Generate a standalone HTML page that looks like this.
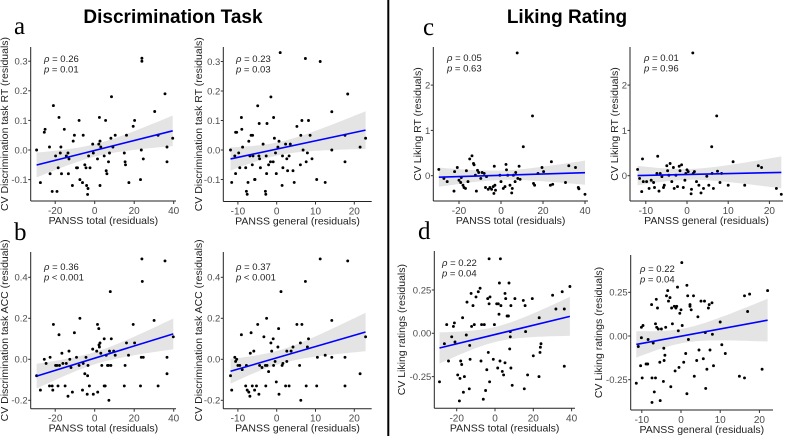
<!DOCTYPE html>
<html><head><meta charset="utf-8"><style>
html,body{margin:0;padding:0;background:#fff;}
svg{display:block;font-family:"Liberation Sans",sans-serif;}
</style></head><body>
<svg id="fig" width="790" height="436" viewBox="0 0 790 436">
<text x="173" y="23" text-anchor="middle" font-size="19" font-weight="bold">Discrimination Task</text>
<text x="567" y="23" text-anchor="middle" font-size="19" font-weight="bold">Liking Rating</text>
<line x1="388.3" y1="0" x2="388.3" y2="436" stroke="#000" stroke-width="2"/>
<text x="14" y="34" font-family="Liberation Serif,serif" font-size="25">a</text>
<text x="14" y="240" font-family="Liberation Serif,serif" font-size="25">b</text>
<text x="423" y="35" font-family="Liberation Serif,serif" font-size="25">c</text>
<text x="418" y="239" font-family="Liberation Serif,serif" font-size="25">d</text>
</svg>
<script>
// ---- data (x = PANSS residual, y = CV residual) ----
const a1X=[-29.4,-27.5,-25.5,-25.1,-22.9,-22.6,-21.5,-20.9,-19.8,-19.1,-18.5,-18.1,-17.4,-17.1,-16.8,-15.4,-14.4,-13.5,-13.0,-13.3,-11.3,-10.9,-10.3,-9.2,-8.7,-7.9,-7.5,-6.2,-5.8,-5.0,-4.4,-4.1,-3.6,-3.4,-3.1,-2.4,-1.0,-0.7,1.4,2.1,2.4,2.7,2.7,3.1,4.8,5.5,5.8,6.2,7.0,7.5,8.2,8.5,9.2,10.4,15.0,15.4,15.6,16.1,17.3,19.5,20.2,23.2,23.6,23.9,23.9,24.6,30.4,32.1,35.6,36.6,36.6,39.5];
const a1Y=[0.00,-0.11,0.06,0.07,0.01,-0.08,-0.14,0.15,-0.02,-0.14,-0.06,0.11,-0.01,0.01,-0.08,0.07,-0.02,-0.01,-0.03,-0.08,-0.12,0.03,0.05,-0.06,-0.06,0.10,-0.10,-0.11,0.05,-0.05,-0.06,-0.12,-0.15,-0.13,-0.02,-0.06,0.02,-0.01,-0.03,0.02,0.11,-0.12,0.03,0.01,-0.02,0.10,-0.07,-0.08,-0.04,-0.01,0.04,0.18,0.01,0.05,-0.01,-0.04,-0.05,0.05,-0.11,0.08,0.10,-0.10,0.00,0.31,0.30,-0.03,0.13,0.05,0.19,0.01,-0.04,0.04];
const a2X=[-11.9,-11.6,-10.8,-10.6,-10.3,-10.6,-9.8,-9.5,-9.1,-9.0,-8.8,-8.0,-7.8,-7.6,-7.4,-7.2,-6.9,-6.6,-6.3,-6.2,-6.1,-5.7,-5.6,-4.9,-4.6,-4.5,-4.4,-4.2,-3.5,-2.9,-2.8,-2.7,-2.6,-2.5,-2.1,-1.6,-1.5,-0.9,-0.8,-0.6,-0.3,-0.1,0.3,0.6,0.9,1.4,1.5,1.6,2.3,2.6,2.8,3.2,3.5,4.2,4.5,5.2,6.1,6.2,6.5,6.8,7.4,7.6,7.9,8.2,8.6,9.1,10.3,11.2,12.5,14.2,14.2,17.6,17.6,18.3,21.5,22.9];
const a2Y=[0.00,-0.11,-0.02,0.06,0.06,-0.08,-0.01,-0.06,0.11,0.07,0.01,-0.06,-0.14,-0.15,-0.11,0.03,-0.02,0.05,-0.05,0.05,-0.02,-0.10,-0.10,0.15,-0.02,0.09,-0.03,-0.06,0.02,-0.14,-0.15,-0.02,-0.08,0.09,-0.05,-0.04,0.18,-0.04,0.11,0.04,-0.01,-0.08,0.01,0.03,0.33,-0.12,-0.02,-0.06,0.02,-0.03,-0.07,-0.02,0.02,-0.07,-0.11,0.08,-0.05,0.05,0.10,0.00,0.31,-0.04,-0.01,0.10,0.05,-0.03,-0.10,0.30,-0.11,0.13,0.00,-0.04,0.05,0.19,0.01,0.04];
const b1X=[-29.4,-27.5,-25.5,-24.6,-22.9,-22.6,-21.5,-21.2,-20.9,-19.8,-19.1,-18.6,-18.1,-17.8,-16.6,-16.1,-15.0,-14.4,-13.5,-13.0,-12.6,-12.0,-11.3,-10.3,-9.2,-7.9,-7.5,-6.2,-5.8,-5.0,-4.4,-3.8,-3.6,-3.4,-2.7,-1.0,-0.7,1.0,1.4,1.5,2.1,2.2,2.4,2.7,3.1,3.6,4.8,4.8,5.3,5.8,6.5,7.0,7.2,7.5,7.9,8.2,8.4,9.6,10.4,15.0,15.4,16.1,17.1,19.5,20.2,23.2,23.6,23.9,24.1,24.6,30.1,32.1,35.6,36.6,36.6,39.8];
const b1Y=[-0.08,-0.15,0.00,-0.02,-0.13,0.01,-0.13,-0.15,0.17,-0.03,-0.03,-0.13,0.12,-0.03,0.03,-0.02,-0.13,-0.02,-0.18,0.04,0.00,-0.04,-0.16,0.13,0.01,-0.03,0.20,-0.15,-0.02,-0.07,0.01,-0.17,-0.08,-0.03,-0.13,0.05,-0.17,0.04,0.17,-0.16,0.15,0.07,0.06,0.08,0.03,-0.03,0.10,-0.13,-0.13,0.02,-0.03,-0.03,-0.20,0.04,0.33,-0.03,0.10,0.04,0.02,-0.13,-0.03,0.08,0.02,0.17,0.08,-0.13,0.01,0.49,0.38,0.01,0.19,-0.13,0.48,0.01,-0.07,0.11];
const b2X=[-11.9,-11.6,-10.8,-10.6,-10.3,-10.0,-9.5,-9.1,-8.9,-8.0,-7.8,-7.6,-7.2,-6.9,-6.8,-6.6,-6.3,-5.9,-5.7,-5.2,-4.9,-4.6,-4.4,-3.8,-3.3,-2.9,-2.8,-2.6,-2.5,-2.1,-1.5,-1.3,-0.9,-0.8,-0.4,-0.1,0.3,0.5,0.6,1.1,1.4,1.6,2.3,2.6,2.6,3.2,3.7,4.2,5.2,5.9,6.1,6.2,6.5,7.4,7.6,7.9,8.2,10.3,10.5,11.2,12.5,14.2,14.2,17.6,17.6,18.3,21.5,22.9];
const b2Y=[-0.08,-0.15,0.01,-0.01,0.00,-0.03,-0.03,0.12,-0.05,-0.13,-0.03,-0.15,-0.16,-0.18,0.03,0.13,-0.13,0.04,-0.15,-0.13,0.17,-0.17,-0.03,-0.04,0.11,-0.03,-0.13,0.20,-0.03,-0.06,0.08,0.04,0.10,-0.03,-0.01,-0.11,0.06,0.15,-0.17,0.33,-0.03,-0.02,-0.13,0.04,-0.01,-0.13,0.04,0.06,0.17,-0.03,0.08,-0.20,0.17,0.38,-0.13,0.06,0.10,-0.13,0.01,0.49,0.02,0.19,0.01,0.01,-0.13,0.48,-0.07,0.11];
const c1X=[-29.6,-27.2,-25.6,-22.4,-22.1,-20.8,-20.0,-19.2,-18.9,-18.1,-17.6,-16.9,-16.5,-15.7,-14.9,-13.8,-13.1,-12.8,-12.2,-11.7,-11.2,-10.6,-9.6,-9.0,-8.0,-7.4,-6.9,-6.1,-5.3,-4.5,-3.7,-3.4,-3.2,-2.9,-2.6,-0.5,0.0,1.1,1.9,2.4,2.6,3.2,4.3,5.1,5.4,5.9,6.7,7.0,7.7,8.0,8.6,9.1,10.6,15.0,15.5,16.0,17.6,19.5,20.3,23.5,24.0,24.6,30.7,32.3,35.5,36.8,37.1,40.0];
const c1Y=[0.14,-0.06,-0.13,-0.34,0.09,0.18,-0.10,-0.15,-0.04,-0.21,-0.26,-0.28,0.11,-0.13,0.37,0.44,0.27,0.24,0.01,-0.34,0.12,0.07,-0.06,0.07,0.05,-0.26,-0.02,-0.30,-0.26,-0.30,-0.24,-0.39,0.21,-0.21,-0.32,0.01,-0.13,-0.28,-0.24,0.25,0.13,0.01,-0.21,-0.38,-0.28,0.01,-0.13,0.07,2.71,-0.06,0.21,-0.08,0.64,1.32,-0.17,-0.21,0.05,0.18,0.09,-0.21,0.31,-0.19,-0.15,0.22,0.18,-0.26,-0.29,-0.41];
const c2X=[-12.0,-11.5,-11.0,-10.8,-10.6,-9.8,-9.2,-8.7,-8.1,-7.9,-7.3,-7.1,-6.8,-6.5,-6.1,-5.7,-5.5,-4.9,-4.7,-4.4,-4.1,-3.7,-3.3,-3.1,-2.7,-2.3,-1.9,-1.7,-1.3,-0.9,-0.5,-0.3,0.0,0.3,1.0,1.1,1.4,1.5,1.8,2.3,2.9,3.4,4.0,4.8,5.3,6.0,6.1,6.4,7.2,7.4,8.0,8.4,10.0,11.2,14.0,17.3,18.1,21.7,22.9];
const c2Y=[0.14,-0.06,-0.35,0.37,-0.13,-0.13,-0.28,-0.10,-0.15,-0.26,0.05,0.43,-0.34,0.05,-0.02,-0.26,-0.21,0.22,0.11,0.01,0.27,-0.13,0.18,-0.28,0.01,-0.24,0.21,0.11,0.24,-0.26,-0.10,0.05,0.13,0.09,-0.40,-0.30,2.71,0.05,0.09,-0.13,-0.21,-0.38,-0.28,-0.01,-0.21,0.64,0.05,-0.28,1.32,0.10,-0.15,0.05,-0.21,0.31,-0.21,0.22,0.18,-0.28,-0.41];
const d1X=[-29.0,-26.4,-25.2,-24.3,-22.6,-21.7,-21.2,-20.9,-19.5,-18.6,-18.3,-17.9,-17.4,-16.9,-16.5,-16.0,-15.0,-14.6,-13.4,-13.2,-13.0,-12.5,-12.2,-11.5,-10.8,-9.9,-8.7,-7.8,-7.3,-7.0,-6.1,-5.6,-4.9,-4.3,-3.8,-3.5,-3.1,-3.1,-2.8,-2.6,-0.9,-0.3,0.9,1.4,1.7,2.1,2.3,2.6,2.8,3.1,3.8,4.5,5.2,5.2,5.6,6.3,7.0,7.3,7.7,8.0,8.0,8.3,8.3,9.0,10.4,14.8,15.3,15.7,16.0,17.0,19.5,20.0,23.0,23.1,23.5,23.7,24.0,30.1,31.8,35.1,36.2,36.2,39.1];
const d1Y=[-0.28,-0.06,0.05,-0.16,-0.02,0.04,0.06,-0.05,-0.24,-0.39,-0.26,-0.16,-0.18,0.09,-0.34,-0.25,-0.01,0.18,-0.32,-0.07,-0.15,0.23,0.04,0.16,0.05,0.21,0.24,0.26,-0.16,0.05,-0.38,0.05,-0.33,-0.21,0.20,-0.11,0.43,0.17,-0.28,0.21,-0.15,0.05,0.17,-0.20,0.17,0.11,0.29,-0.16,0.43,0.16,-0.22,-0.24,0.23,-0.17,0.20,0.10,0.10,0.29,-0.09,0.01,-0.02,0.16,-0.20,-0.30,0.20,0.19,-0.32,0.16,0.01,-0.24,0.20,-0.13,-0.25,0.09,-0.11,-0.08,-0.06,0.22,0.14,0.24,0.14,-0.19,0.27];
const d2X=[-11.4,-10.9,-10.3,-10.1,-10.1,-9.9,-9.7,-8.9,-8.5,-8.4,-7.5,-7.4,-7.4,-7.1,-6.8,-6.5,-6.5,-6.3,-6.2,-6.0,-5.8,-5.4,-5.3,-5.0,-4.5,-4.4,-4.3,-4.1,-3.9,-3.7,-3.4,-3.2,-2.8,-2.6,-2.4,-2.2,-1.7,-1.5,-1.3,-1.1,-0.9,-0.7,-0.5,-0.3,0.0,0.2,0.3,0.7,1.2,1.5,1.5,1.7,1.9,2.3,2.3,2.6,3.2,3.4,4.0,4.3,4.6,5.1,5.7,6.0,6.2,6.3,6.6,7.0,7.2,7.4,7.9,8.0,8.3,10.0,10.4,11.3,14.9,16.2,16.2,17.0,17.5,20.7,22.1];
const d2Y=[-0.27,-0.06,-0.17,0.05,-0.01,-0.24,0.06,-0.16,-0.16,-0.02,0.18,-0.24,-0.38,-0.04,-0.32,0.07,-0.24,0.21,0.05,0.16,0.04,-0.15,-0.37,0.04,-0.26,-0.07,-0.14,-0.11,0.05,0.23,0.26,0.20,0.22,-0.29,0.16,0.07,0.17,-0.20,0.16,0.17,0.28,0.03,-0.18,0.13,0.15,0.42,0.06,-0.15,-0.10,0.29,-0.33,0.23,-0.02,0.18,0.17,0.15,0.23,-0.23,-0.14,0.11,-0.08,0.20,-0.13,0.20,0.02,-0.30,-0.19,0.16,0.18,-0.08,0.19,0.01,-0.17,0.08,-0.05,-0.10,-0.23,-0.24,0.23,0.14,0.24,-0.19,0.26];
const tickXTotal=[-20,0,20,40];
const tickXGeneral=[-10,0,10,20];
const tickYa=[-0.1,0.0,0.1,0.2,0.3];
const tickYaLabels=["-0.1","0.0","0.1","0.2","0.3"];
const tickYb=[-0.2,0.0,0.2,0.4];
const tickYbLabels=["-0.2","0.0","0.2","0.4"];
const tickYc=[0,1,2];
const tickYcLabels=["0","1","2"];
const tickYd=[-0.25,0,0.25];
const tickYdLabels=["-0.25","0.00","0.25"];
const statsRho=["0.26","0.23","0.36","0.37","0.05","0.01","0.22","0.22"];
const statsP=["= 0.01","= 0.03","< 0.001","< 0.001","= 0.63","= 0.96","= 0.04","= 0.04"];

// ---- layout ----
const panels=[
 {id:'a1',X:a1X,Y:a1Y,xo:94.7,xs:1.975,yo:150,ys:296,L:30.7,R:176,T:47,B:201,xt:tickXTotal,yt:tickYa,yl:tickYaLabels,xtitle:'PANSS total (residuals)',ytitle:'CV Discrimination task RT (residuals)',ytx:5,sx:44,sy:62},
 {id:'a2',X:a2X,Y:a2Y,xo:276.7,xs:3.88,yo:150,ys:295,L:223.3,R:371.7,T:47,B:201.5,xt:tickXGeneral,yt:tickYa,yl:tickYaLabels,xtitle:'PANSS general (residuals)',ytitle:'CV Discrimination task RT (residuals)',ytx:199,sx:236,sy:62},
 {id:'b1',X:b1X,Y:b1Y,xo:94.7,xs:1.975,yo:359.3,ys:205,L:30.7,R:176,T:252,B:408.7,xt:tickXTotal,yt:tickYb,yl:tickYbLabels,xtitle:'PANSS total (residuals)',ytitle:'CV Discrimination task ACC (residuals)',ytx:5,sx:44,sy:270},
 {id:'b2',X:b2X,Y:b2Y,xo:276.7,xs:3.88,yo:359.3,ys:205,L:223.3,R:371.7,T:252,B:408.7,xt:tickXGeneral,yt:tickYb,yl:tickYbLabels,xtitle:'PANSS general (residuals)',ytitle:'CV Discrimination task ACC (residuals)',ytx:199,sx:236,sy:270},
 {id:'c1',X:c1X,Y:c1Y,xo:501,xs:2.1,yo:175.7,ys:45.3,L:433.3,R:588,T:47,B:201,xt:tickXTotal,yt:tickYc,yl:tickYcLabels,xtitle:'PANSS total (residuals)',ytitle:'CV Liking RT (residuals)',ytx:418,sx:447,sy:61},
 {id:'c2',X:c2X,Y:c2Y,xo:687,xs:4.12,yo:175.7,ys:45.3,L:630,R:783,T:47,B:201,xt:tickXGeneral,yt:tickYc,yl:tickYcLabels,xtitle:'PANSS general (residuals)',ytitle:'CV Liking RT (residuals)',ytx:615,sx:644,sy:61},
 {id:'d1',X:d1X,Y:d1Y,xo:495,xs:1.915,yo:333.3,ys:173.3,L:434.3,R:575,T:251,B:408.3,xt:tickXTotal,yt:tickYd,yl:tickYdLabels,xtitle:'PANSS total (residuals)',ytitle:'CV Liking ratings (residuals)',ytx:402,sx:442,sy:266},
 {id:'d2',X:d2X,Y:d2Y,xo:681,xs:3.92,yo:336,ys:174.7,L:630.7,R:773,T:255,B:410,xt:tickXGeneral,yt:tickYd,yl:tickYdLabels,xtitle:'PANSS general (residuals)',ytitle:'CV Liking ratings (residuals)',ytx:599,sx:640,sy:272}
];
const NS='http://www.w3.org/2000/svg';
const svg=document.getElementById('fig');
function mk(tag,attrs,parent){const e=document.createElementNS(NS,tag);for(const k in attrs)e.setAttribute(k,attrs[k]);(parent||svg).appendChild(e);return e;}

panels.forEach((p,pi)=>{
 const sx=v=>p.xo+v*p.xs, sy=v=>p.yo-v*p.ys;
 const g=mk('g',{});
 
 
 const n=p.X.length;let mx=0,my=0;for(let i=0;i<n;i++){mx+=p.X[i];my+=p.Y[i];}mx/=n;my/=n;
 let sxx=0,sxy=0;for(let i=0;i<n;i++){sxx+=(p.X[i]-mx)**2;sxy+=(p.X[i]-mx)*(p.Y[i]-my);}
 const b=sxy/sxx,a=my-b*mx;let sse=0;for(let i=0;i<n;i++)sse+=(p.Y[i]-a-b*p.X[i])**2;
 const s=Math.sqrt(sse/(n-2)),t=1.99;
 const xmin=Math.min(...p.X),xmax=Math.max(...p.X);
 const up=[],lo=[];
 for(let k=0;k<=40;k++){const x=xmin+(xmax-xmin)*k/40;const yh=a+b*x;const se=s*Math.sqrt(1/n+(x-mx)**2/sxx);
  up.push(sx(x).toFixed(1)+','+sy(yh+t*se).toFixed(1));lo.unshift(sx(x).toFixed(1)+','+sy(yh-t*se).toFixed(1));}
 const band=mk('polygon',{points:up.concat(lo).join(' '),fill:'#d6d6d6','fill-opacity':'0.65'},g);
 
 
 for(let i=0;i<n;i++){const c=mk('circle',{cx:sx(p.X[i]).toFixed(1),cy:sy(p.Y[i]).toFixed(1),r:1.45,fill:'#000'},g);
  
  }
 const ln=mk('line',{x1:sx(xmin),y1:sy(a+b*xmin),x2:sx(xmax),y2:sy(a+b*xmax),stroke:'#0000ff','stroke-width':1.6},g);
 
 
 const ya=mk('line',{x1:p.L,y1:p.T,x2:p.L,y2:p.B,stroke:'#222','stroke-width':1},g);
 
 
 const xa=mk('line',{x1:p.L,y1:p.B,x2:p.R,y2:p.B,stroke:'#222','stroke-width':1},g);
 
 
 const cy=(p.T+p.B)/2;
 const yt=mk('text',{x:p.ytx,y:cy,'text-anchor':'middle','font-size':'10.5',fill:'#222',transform:'rotate(-90 '+p.ytx+' '+cy+')','dominant-baseline':'middle'},g);yt.textContent=p.ytitle;
 
 
 p.xt.forEach(v=>{mk('line',{x1:sx(v),y1:p.B,x2:sx(v),y2:p.B+3,stroke:'#333'},g);
  const tx=mk('text',{x:sx(v),y:p.B+13,'text-anchor':'middle','font-size':'10',fill:'#4d4d4d'},g);tx.textContent=String(v);
  
  });
 p.yt.forEach((v,j)=>{mk('line',{x1:p.L-2.5,y1:sy(v),x2:p.L,y2:sy(v),stroke:'#333'},g);
  const tx=mk('text',{x:p.L-3,y:sy(v)+3.4,'text-anchor':'end','font-size':'9.5',fill:'#4d4d4d'},g);tx.textContent=p.yl[j];
  
  });
 const xt=mk('text',{x:(p.L+p.R)/2,y:p.B+23,'text-anchor':'middle','font-size':'10.5',fill:'#222'},g);xt.textContent=p.xtitle;
 
 
 const r=mk('text',{x:p.sx,y:p.sy,'font-size':'9.5',fill:'#222'},g);r.innerHTML='<tspan font-style="italic">ρ</tspan> = '+statsRho[pi];
 
 
 const q=mk('text',{x:p.sx,y:p.sy+10.5,'font-size':'9.5',fill:'#222'},g);q.innerHTML='<tspan font-style="italic">p</tspan> '+statsP[pi];
 
 
});
</script>
</body></html>
